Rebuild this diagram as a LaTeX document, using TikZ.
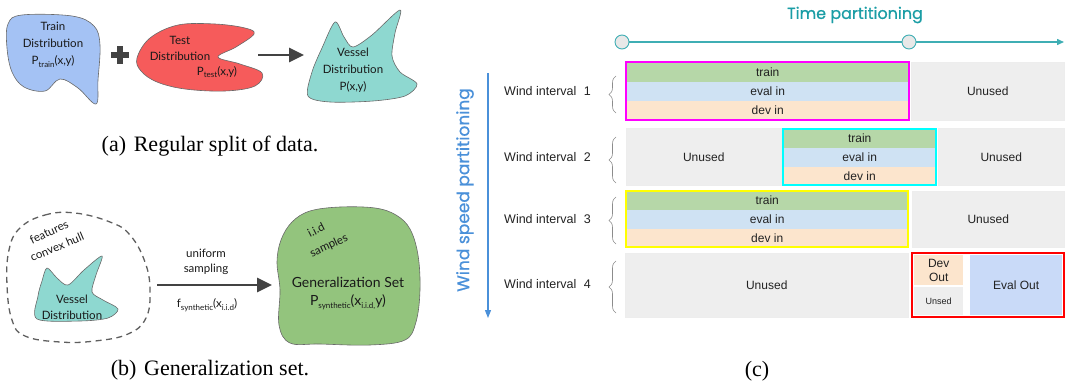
\documentclass[tikz,border=0pt]{standalone}
\usepackage{fontspec}
\setmainfont{Liberation Serif}
\newfontfamily\gill{Lato}
\newfontfamily\arial{Liberation Sans}
\newfontfamily\geo[FakeBold=0.8]{Poppins}
\usetikzlibrary{arrows.meta,decorations.pathreplacing}
\definecolor{trainblue}{HTML}{A4C2F4}
\definecolor{testred}{HTML}{F65B5B}
\definecolor{vesselteal}{HTML}{8ED8D0}
\definecolor{gengreen}{HTML}{93C47D}
\definecolor{darkg}{HTML}{434343}
\definecolor{cgreen}{HTML}{B6D7A8}
\definecolor{cblue}{HTML}{CFE2F3}
\definecolor{cpeach}{HTML}{FCE5CD}
\definecolor{cgray}{HTML}{EEEEEE}
\definecolor{evout}{HTML}{C9DAF8}
\definecolor{tealt}{HTML}{1A9DA5}
\definecolor{teall}{HTML}{3FAEB4}
\definecolor{windb}{HTML}{4A90D9}
\definecolor{celltxt}{HTML}{222222}
\definecolor{fmag}{RGB}{255,0,255}
\definecolor{fcyan}{RGB}{0,255,255}
\definecolor{fyel}{RGB}{255,255,0}
\definecolor{fred}{RGB}{255,0,0}
\newcommand\mysub[1]{\raisebox{-0.45ex}{\fontsize{8}{9}\selectfont #1}}
\begin{document}
\begin{tikzpicture}[x=1pt,y=-1pt,
  blob/.style={draw=darkg!80, line width=0.6pt},
  blobtxt/.style={font=\gill\fontsize{11.5}{17}\selectfont, align=center, inner sep=0pt, text=black!90},
  tilttxt/.style={font=\gill\fontsize{11.5}{14}\selectfont, inner sep=0pt, text=black!90},
  fatarrow/.style={darkg, line width=2.8pt, -{Triangle[length=15pt,width=14pt]}},
  captxt/.style={font=\fontsize{22}{24}\selectfont, inner sep=0pt},
  cell/.style={anchor=north west, inner sep=0pt, draw=none, text=celltxt,
     font=\arial\fontsize{12}{14}\selectfont, align=center},
  graycell/.style={cell, fill=cgray, draw=black!7, line width=0.5pt},
  wlabel/.style={anchor=west, inner sep=0pt, font=\arial\fontsize{12.5}{14}\selectfont, text=celltxt},
  rowbrace/.style={draw=black!45, line width=0.6pt, decorate, decoration={brace, amplitude=7pt}},
  boxframe/.style={line width=2pt}
]
\useasboundingbox (0,0) rectangle (1065,383);

% ---------------- panel (a) ----------------
\draw[blob, fill=trainblue] plot[smooth cycle, tension=0.6] coordinates
  {(8,24) (22,15) (72,16) (94,26) (100,45) (98,80) (96,104) (78,88) (60,79) (45,91) (24,87) (12,72) (7,48)};
\node[blobtxt] (trainlbl) at (53,45) {Train\\Distribution\\P\mysub{train}(x,y)};

\draw[darkg, line width=5.5pt] (111,55) -- (129,55) (120,46) -- (120,64);

\draw[blob, fill=testred] plot[smooth cycle, tension=0.6] coordinates
  {(137,58) (150,38) (178,25) (215,24) (245,28) (254,34) (236,47) (218,57) (240,64) (262,73) (255,86) (225,91) (185,89) (157,82) (141,71)};
\node[blobtxt] (testa) at (180,40) {Test};
\node[blobtxt] (testb) at (180,56) {Distribution};
\node[blobtxt] (testc) at (217,72) {P\mysub{test}(x,y)};

\coordinate (aarrs) at (258,55);
\coordinate (aarre) at (304,55);
\draw[fatarrow] (aarrs) -- (aarre);

\draw[blob, fill=vesselteal] plot[smooth cycle, tension=0.5] coordinates
  {(308,96) (312,72) (322,48) (335,22) (344,37) (353,47) (372,35) (400,10) (395,33) (392,56) (400,72) (417,84) (405,96) (373,101) (330,102)};
\node[blobtxt] (vessela) at (353,70) {Vessel\\Distribution\\P(x,y)};

\node[captxt] (capa) at (210,146) {(a)\hspace{0.35em}Regular split of data.};

% ---------------- panel (b) ----------------
\draw[darkg!85, line width=1.3pt, dash pattern=on 6pt off 4.5pt] plot[smooth cycle, tension=0.7] coordinates
  {(20,228) (45,215) (75,213) (110,222) (130,235) (145,262) (150,290) (146,318) (128,334) (95,341) (60,342) (25,336) (12,320) (7,285) (9,250)};
\draw[blob, fill=vesselteal] plot[smooth cycle, tension=0.5] coordinates
  {(37,319) (38,296) (42,281) (47,268) (57,278) (68,285) (84,270) (102,256) (96,275) (92,292) (103,300) (118,309) (108,318) (80,321)};
\node[blobtxt, font=\gill\fontsize{11.5}{16}\selectfont] (vesselb) at (72,307) {Vessel\\Distribution};
\node[tilttxt, rotate=25] (feat) at (49,232) {features};
\node[tilttxt, rotate=23] (hull) at (57,247) {convex hull};

\node[blobtxt] (unif) at (206,253) {uniform};
\node[blobtxt] (samp) at (206,269) {sampling};
\coordinate (barrs) at (157,285);
\coordinate (barre) at (272,285);
\draw[fatarrow] (barrs) -- (barre);
\node[blobtxt] (fsyn) at (207,305) {f\mysub{synthetic}(x\mysub{i.i.d})};

\draw[blob, fill=gengreen] plot[smooth cycle, tension=0.6] coordinates
  {(277,262) (281,240) (292,222) (310,211) (340,207) (375,208) (396,215) (410,229) (418,255) (420,290) (416,322) (405,340) (370,345) (320,344) (290,343) (279,325) (280,290)};
\node[tilttxt, rotate=27] (iid) at (316,230) {i.i.d};
\node[tilttxt, rotate=25] (sampl) at (329,246) {samples};
\node[blobtxt, font=\gill\fontsize{14}{18}\selectfont] (gen) at (348,282) {Generalization Set};
\node[blobtxt, font=\gill\fontsize{14}{18}\selectfont] (psyn) at (348,302) {P\mysub{synthetic}(x\mysub{i.i.d,}y)};

\node[captxt] (capb) at (210,370) {(b)\hspace{0.35em}Generalization set.};

% ---------------- panel (c) ----------------
\node[font=\geo\fontsize{16}{18}\selectfont, text=tealt, inner sep=0pt] (tpart) at (855,15) {Time partitioning};
\node[circle, draw=teall, fill=black!9, line width=0.9pt, minimum size=14pt, inner sep=0pt] (c1) at (622,42) {};
\node[circle, draw=teall, fill=black!9, line width=0.9pt, minimum size=14pt, inner sep=0pt] (c2) at (909,42) {};
\coordinate (tend) at (1064,42);
\draw[teall, line width=1.4pt] (c1) -- (c2);
\draw[teall, line width=1.4pt, -{Triangle[length=7pt,width=6pt]}] (c2) -- (tend);

\node[font=\geo\fontsize{17}{19}\selectfont, text=windb, rotate=90, inner sep=0pt] (wpart) at (465,190) {Wind speed partitioning};
\coordinate (ws) at (488,73);
\coordinate (we) at (488,318);
\draw[windb, line width=1.1pt, -{Triangle[length=8pt,width=6pt]}] (ws) -- (we);

% labels
\node[wlabel] (w1) at (504,91) {Wind interval\hspace{0.6em}1};
\node[wlabel] (w2) at (504,157) {Wind interval\hspace{0.6em}2};
\node[wlabel] (w3) at (504,219) {Wind interval\hspace{0.6em}3};
\node[wlabel] (w4) at (504,284) {Wind interval\hspace{0.6em}4};
\coordinate (b1a) at (616,113); \coordinate (b1b) at (616,76);
\coordinate (b2a) at (616,183); \coordinate (b2b) at (616,137);
\coordinate (b3a) at (616,244); \coordinate (b3b) at (616,197);
\coordinate (b4a) at (616,313); \coordinate (b4b) at (616,261);
\draw[rowbrace] (b1a) -- (b1b);
\draw[rowbrace] (b2a) -- (b2b);
\draw[rowbrace] (b3a) -- (b3b);
\draw[rowbrace] (b4a) -- (b4b);

% row 1
\node[cell, fill=cgreen, minimum width=283pt, minimum height=19.5pt] (r1t) at (626,62) {train};
\node[cell, fill=cblue, minimum width=283pt, minimum height=19pt] (r1e) at (626,81.5) {eval in};
\node[cell, fill=cpeach, minimum width=283pt, minimum height=19.5pt] (r1d) at (626,100.5) {dev in};
\node[graycell, minimum width=153pt, minimum height=58pt] (r1u) at (911,62) {Unused};
\draw[boxframe, draw=fmag] (r1t.north west) rectangle (r1d.south east);

% row 2
\node[graycell, minimum width=155pt, minimum height=57pt] (r2u1) at (626,128) {Unused};
\node[cell, fill=cgreen, minimum width=153pt, minimum height=18.5pt] (r2t) at (783,129) {train};
\node[cell, fill=cblue, minimum width=153pt, minimum height=19pt] (r2e) at (783,147.5) {eval in};
\node[cell, fill=cpeach, minimum width=153pt, minimum height=18.5pt] (r2d) at (783,166.5) {dev in};
\node[graycell, minimum width=126pt, minimum height=57pt] (r2u2) at (938,128) {Unused};
\draw[boxframe, draw=fcyan] (r2t.north west) rectangle (r2d.south east);

% row 3
\node[cell, fill=cgreen, minimum width=282pt, minimum height=18.5pt] (r3t) at (626,191) {train};
\node[cell, fill=cblue, minimum width=282pt, minimum height=19pt] (r3e) at (626,209.5) {eval in};
\node[cell, fill=cpeach, minimum width=282pt, minimum height=18.5pt] (r3d) at (626,228.5) {dev in};
\node[graycell, minimum width=152pt, minimum height=56pt] (r3u) at (912,191) {Unused};
\draw[boxframe, draw=fyel] (r3t.north west) rectangle (r3d.south east);

% row 4
\node[graycell, minimum width=283pt, minimum height=64pt] (r4u) at (625,253) {Unused};
\node[cell, fill=cpeach, minimum width=49pt, minimum height=30pt] (r4dev) at (914,255) {Dev\\Out};
\node[cell, fill=cgray, minimum width=49pt, minimum height=28pt, font=\arial\fontsize{9}{11}\selectfont] (r4un) at (914,287) {Unsed};
\node[cell, fill=evout, minimum width=92pt, minimum height=60pt] (r4ev) at (970,255) {Eval Out};
\coordinate (r4nw) at (912,253);
\coordinate (r4se) at (1064,317);
\draw[boxframe, draw=fred] (r4nw) rectangle (r4se);

\node[captxt] (capc) at (757,371) {(c)};
\end{tikzpicture}
\end{document}
